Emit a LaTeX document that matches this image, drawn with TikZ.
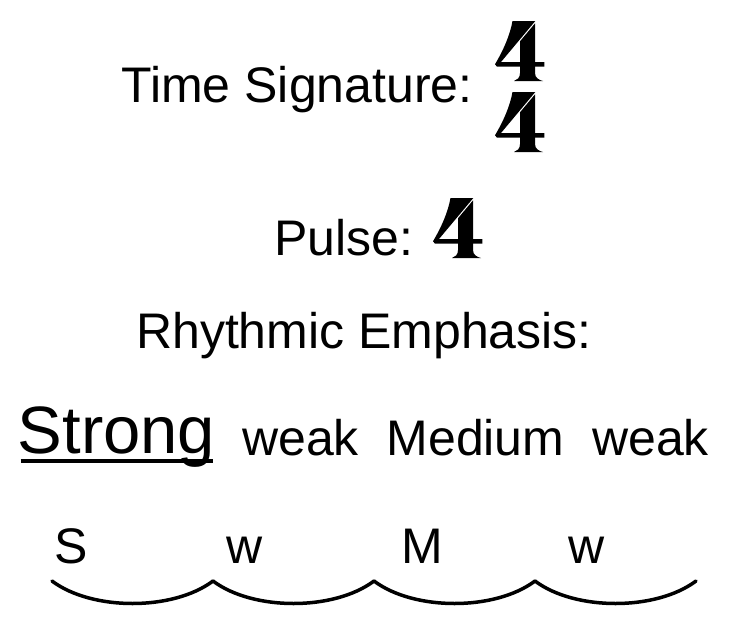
\documentclass[tikz,border=0pt]{standalone}
\usepackage{fontspec}
\setmainfont{Liberation Sans}
\tikzset{
  txt/.style={inner sep=0pt, anchor=base, font=\fontsize{50}{60}\selectfont},
  bigtxt/.style={inner sep=0pt, anchor=base, font=\fontsize{67}{80}\selectfont},
  glyphfill/.style={fill=black, draw=none},
  slur/.style={line width=3.5pt, line cap=round, line join=round},
  ulline/.style={line width=3.5pt},
  pics/fourglyph/.style={code={
    \fill[glyphfill] (17.5,0) -- (40.3,0) -- (6,41) -- (49.3,41) -- (49.3,45.7) -- (2,45.7) -- (0,43.3)
       .. controls (8.5,29) and (15,14) .. (17.5,0) -- cycle;
    \fill[glyphfill] (40,2.4) -- (25,20.3) -- (25,52) .. controls (25,57) and (22,59) .. (19,60)
       -- (48,60) .. controls (44,59) and (40,57) .. (40,52) -- cycle;
  }}
}
\begin{document}
\begin{tikzpicture}[x=1pt,y=-1pt]
\useasboundingbox[fill=white] (0,0) rectangle (731,616);
% time signature
\node[txt] (ts) at (297,102) {Time Signature:};
\pic at (495,21) {fourglyph};
\pic at (495,92) {fourglyph};
% pulse
\node[txt] (pulse) at (344,255) {Pulse:};
\pic at (433,198) {fourglyph};
% rhythmic emphasis
\node[txt] (rh) at (364,348) {Rhythmic Emphasis:};
\node[bigtxt] (strong) at (116.5,453) {Strong};
\node[txt] (weak1) at (300.5,455) {weak};
\node[txt] (med) at (475.5,455) {Medium};
\node[txt] (weak2) at (650.5,455) {weak};
\draw[ulline] ([xshift=3pt,yshift=-8pt]strong.base west) -- ([xshift=-2pt,yshift=-8pt]strong.base east);
% beat letters
\node[txt] (s1) at (71,563) {S};
\node[txt] (w1) at (244.5,563) {w};
\node[txt] (m1) at (422,563) {M};
\node[txt] (w2) at (587,563) {w};
% slurs
\coordinate (c0) at (52,581);
\coordinate (c1) at (213,581);
\coordinate (c2) at (374,581);
\coordinate (c3) at (535,581);
\coordinate (c4) at (696,581);
\draw[slur] (c0) .. controls +(40,30) and +(-40,30) .. (c1);
\draw[slur] (c1) .. controls +(40,30) and +(-40,30) .. (c2);
\draw[slur] (c2) .. controls +(40,30) and +(-40,30) .. (c3);
\draw[slur] (c3) .. controls +(40,30) and +(-40,30) .. (c4);
\end{tikzpicture}
\end{document}
